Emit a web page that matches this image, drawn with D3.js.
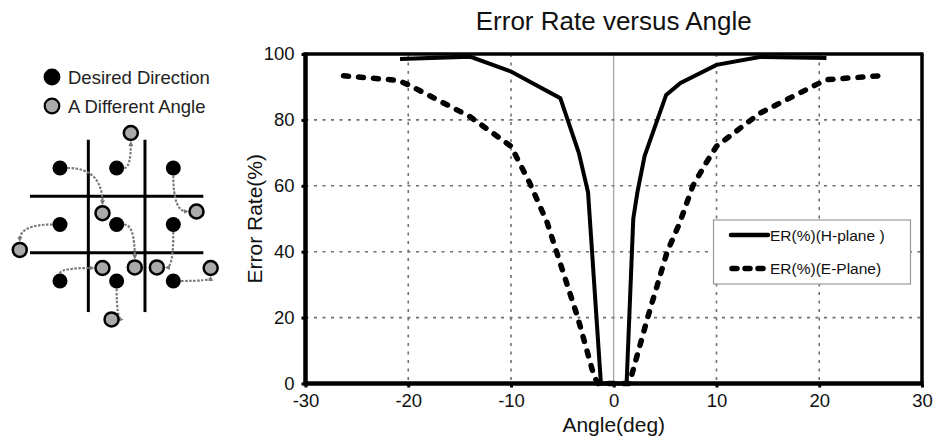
<!DOCTYPE html>
<html><head><meta charset="utf-8">
<script src="https://cdn.jsdelivr.net/npm/d3@7"></script>
<style>body{margin:0;background:#fff}svg{display:block;font-family:"Liberation Sans",Arial,sans-serif}</style>
</head><body><svg id="c" width="938" height="443"></svg>
<script>
// ---- chart data ----
const hAngle = [-20.8, -14, -10, -5.2, -3.4, -2.5, -1.25, 0, 1.25, 1.9, 2.3, 3.0, 5.1, 6.5, 10, 14.2, 20.7];
const hRate  = [98.5, 99.2, 94.7, 86.6, 70, 58, 0, 0, 0, 50, 58, 69, 87.6, 91.2, 96.7, 99.1, 98.8];
const eAngle = [-26.3, -21, -20, -14, -10, -8.2, -6.5, -3.5, -1.9, -1.5, 0, 1.5, 1.7, 3.3, 5.2, 6.4, 7.7, 9, 10, 14.2, 19.7, 20.7, 25.9];
const eRate  = [93.4, 92, 90.7, 81, 72, 61, 49, 20, 2, 0, 0, 0, 2, 20, 40, 48.6, 60, 67, 72, 82, 90.7, 92.2, 93.4];
const xTicks = [-30, -20, -10, 0, 10, 20, 30];
const yTicks = [0, 20, 40, 60, 80, 100];
const seriesNames = ["ER(%)(H-plane )", "ER(%)(E-Plane)"];
const titleText = "Error Rate versus Angle";
const xTitle = "Angle(deg)";
const yTitle = "Error Rate(%)";
// ---- diagram data (grid units) ----
const legendItems = ["Desired Direction", "A Different Angle"];
const dotCol = [0, 1, 2, 0, 1, 2, 0, 1, 2];
const dotRow = [0, 0, 0, 1, 1, 1, 2, 2, 2];
const movedCol = [0.75, 1.25, 2.41, -0.71, 1.32, 1.71, 0.75, 0.91, 2.66];
const movedRow = [0.8, -0.62, 0.77, 1.45, 1.76, 1.76, 1.77, 2.68, 1.77];
const bend = ["h", "h", "v", "h", "h", "v", "v", "v", "h"];
const gridLines = [0.5, 1.5];

const svg = d3.select("#c");
const L = 305.5, R = 922, T = 54, B = 383.5;
const x = d3.scaleLinear().domain([-30, 30]).range([L, R]);
const y = d3.scaleLinear().domain([0, 100]).range([B, T]);

// grid
const g = svg.append("g");
g.selectAll(".vg").data(xTicks.filter(d => d !== 0 && Math.abs(d) !== 30)).join("line")
  .attr("x1", d => x(d)).attr("x2", d => x(d)).attr("y1", T).attr("y2", B)
  .attr("stroke", "#707070").attr("stroke-width", 1.6).attr("stroke-dasharray", "3,5.5");
g.selectAll(".hg").data(yTicks.filter(d => d > 0 && d < 100)).join("line")
  .attr("x1", L).attr("x2", R).attr("y1", d => y(d)).attr("y2", d => y(d))
  .attr("stroke", "#707070").attr("stroke-width", 1.6).attr("stroke-dasharray", "3,5.5");
g.append("line").attr("x1", x(0)).attr("x2", x(0)).attr("y1", T).attr("y2", B)
  .attr("stroke", "#8a8a8a").attr("stroke-width", 1);

// axes
const fmt = d => String(d);
const xAxis = d3.axisBottom(x).tickValues(xTicks).tickSize(4).tickPadding(6).tickFormat(fmt);
const yAxis = d3.axisLeft(y).tickValues(yTicks).tickSize(4).tickPadding(7).tickFormat(fmt);
const ax = svg.append("g").attr("transform", `translate(0,${B})`).call(xAxis);
const ay = svg.append("g").attr("transform", `translate(${L},0)`).call(yAxis);
[ax, ay].forEach(a => {
  a.select(".domain").remove();
  a.selectAll(".tick line").attr("stroke", "#000").attr("stroke-width", 3);
  a.selectAll(".tick text").attr("fill", "#111").style("font-size", "18.5px").style("font-family", "Liberation Sans, Arial, sans-serif");
});

// lines
const lineGen = d3.line().x(d => x(d[0])).y(d => y(d[1]));
svg.append("path").datum(eAngle.map((a, i) => [a, eRate[i]]))
  .attr("d", lineGen).attr("fill", "none").attr("stroke", "#000").attr("stroke-width", 5.5)
  .attr("stroke-linecap", "round").attr("stroke-dasharray", "5,10");
svg.append("path").datum(hAngle.map((a, i) => [a, hRate[i]]))
  .attr("d", lineGen).attr("fill", "none").attr("stroke", "#000").attr("stroke-width", 4)
  .attr("stroke-linejoin", "miter");

// frame
svg.append("line").attr("x1", L - 2).attr("x2", R + 1.5).attr("y1", T).attr("y2", T).attr("stroke", "#000").attr("stroke-width", 3.5);
svg.append("line").attr("x1", R).attr("x2", R).attr("y1", T).attr("y2", B).attr("stroke", "#000").attr("stroke-width", 3.5);
svg.append("line").attr("x1", L).attr("x2", L).attr("y1", T - 1.5).attr("y2", B + 2).attr("stroke", "#000").attr("stroke-width", 4.5);
svg.append("line").attr("x1", L - 2).attr("x2", R + 1.5).attr("y1", B).attr("y2", B).attr("stroke", "#000").attr("stroke-width", 4.5);

// titles
svg.append("text").attr("x", (L + R) / 2).attr("y", 30).attr("text-anchor", "middle")
  .style("font-size", "26px").attr("fill", "#111").text(titleText);
svg.append("text").attr("x", (L + R) / 2).attr("y", 432).attr("text-anchor", "middle")
  .style("font-size", "21px").attr("fill", "#111").text(xTitle);
svg.append("text").attr("transform", `translate(262,${(T + B) / 2}) rotate(-90)`).attr("text-anchor", "middle")
  .style("font-size", "21px").attr("fill", "#111").text(yTitle);

// legend
const lg = svg.append("g");
lg.append("rect").attr("x", 713.5).attr("y", 220).attr("width", 197).attr("height", 64)
  .attr("fill", "#fff").attr("stroke", "#999").attr("stroke-width", 1.2);
const ly = [235, 268.5];
lg.append("line").attr("x1", 731).attr("x2", 768).attr("y1", ly[0]).attr("y2", ly[0])
  .attr("stroke", "#000").attr("stroke-width", 4.5).attr("stroke-linecap", "round");
lg.append("line").attr("x1", 732).attr("x2", 768).attr("y1", ly[1]).attr("y2", ly[1])
  .attr("stroke", "#000").attr("stroke-width", 5.5).attr("stroke-linecap", "round").attr("stroke-dasharray", "5,8");
lg.selectAll("text").data(seriesNames).join("text")
  .attr("x", 770).attr("y", (d, i) => ly[i] + 5.5).style("font-size", "15.5px").attr("fill", "#111").text(d => d);

// ---- left diagram ----
const dg = svg.append("g");
const legCircle = [{fill: "#000"}, {fill: "#aaa"}];
const legY = [77, 106];
dg.selectAll(".lc").data(legendItems).join("circle")
  .attr("cx", 52).attr("cy", (d, i) => legY[i]).attr("r", 7.3)
  .attr("fill", (d, i) => legCircle[i].fill).attr("stroke", "#000").attr("stroke-width", 2.2);
dg.selectAll(".lt").data(legendItems).join("text")
  .attr("x", 68).attr("y", (d, i) => legY[i] + 6.5).style("font-size", "18.5px").attr("fill", "#222").text(d => d);

const gx = d3.scaleLinear().domain([0, 2]).range([60, 173.3]);
const gy = d3.scaleLinear().domain([0, 2]).range([168, 281]);
gridLines.forEach(v => {
  dg.append("line").attr("x1", gx(v)).attr("x2", gx(v)).attr("y1", gy(-0.5)).attr("y2", gy(2.55))
    .attr("stroke", "#000").attr("stroke-width", 3);
  dg.append("line").attr("x1", gx(-0.53)).attr("x2", gx(2.53)).attr("y1", gy(v)).attr("y2", gy(v))
    .attr("stroke", "#000").attr("stroke-width", 3);
});

svg.append("defs").append("marker").attr("id", "ah").attr("viewBox", "0 0 10 10")
  .attr("refX", 6).attr("refY", 5).attr("markerWidth", 5).attr("markerHeight", 5)
  .attr("orient", "auto").attr("markerUnits", "userSpaceOnUse")
  .append("path").attr("d", "M0,0 L10,5 L0,10 Z").attr("fill", "#7a7a7a");

const arrows = dotCol.map((c, i) => {
  const s = [gx(c), gy(dotRow[i])], t = [gx(movedCol[i]), gy(movedRow[i])];
  const k = bend[i] === "h" ? [t[0], s[1]] : [s[0], t[1]];
  const off = (p, q, r) => { const dx = q[0] - p[0], dy = q[1] - p[1], l = Math.hypot(dx, dy) || 1; return [p[0] + dx / l * r, p[1] + dy / l * r]; };
  const a = off(s, k, 7.5), b = off(t, k, 10);
  return `M${a[0]},${a[1]} Q${k[0]},${k[1]} ${b[0]},${b[1]}`;
});
dg.selectAll(".ar").data(arrows).join("path").attr("d", d => d).attr("fill", "none")
  .attr("stroke", "#7a7a7a").attr("stroke-width", 2.2).attr("stroke-dasharray", "2.5,1.5")
  .attr("marker-end", "url(#ah)");

dg.selectAll(".bd").data(dotCol).join("circle")
  .attr("cx", (d) => gx(d)).attr("cy", (d, i) => gy(dotRow[i])).attr("r", 7.5).attr("fill", "#000");
dg.selectAll(".gd").data(movedCol).join("circle")
  .attr("cx", d => gx(d)).attr("cy", (d, i) => gy(movedRow[i])).attr("r", 7)
  .attr("fill", "#aaa").attr("stroke", "#000").attr("stroke-width", 2.5);
</script></body></html>
